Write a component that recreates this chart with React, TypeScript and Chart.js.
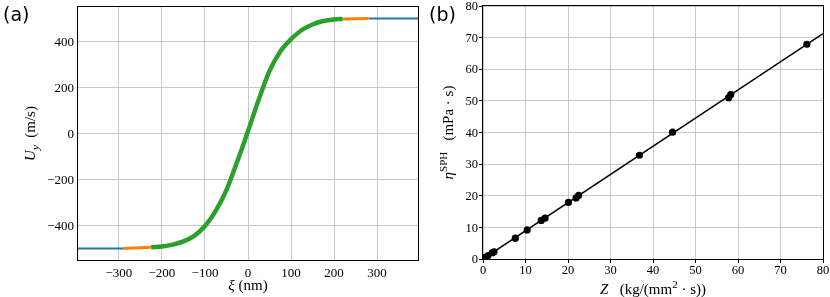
import React, { useEffect, useRef } from "react";
import { Chart, registerables } from "chart.js";
Chart.register(...registerables);

// ---------- Panel (a): U_y vs xi ----------
const xiBlueLeft = [-400, -290];
const uBlueLeft = [-500, -500];
const xiOrangeLeft = [-290, -225];
const uOrangeLeft = [-500, -495];
const xiGreen = [-225, -200, -175, -150, -125, -100, -75, -50, -25, 0, 25, 50, 75, 100, 125, 150, 175, 200, 220];
const uGreen = [-495, -491, -483, -469, -445, -402, -336, -245, -122, 10, 148, 272, 357, 410, 450, 474, 489, 496, 498];
const xiOrangeRight = [220, 280];
const uOrangeRight = [498, 500];
const xiBlueRight = [280, 400];
const uBlueRight = [500, 500];
const xiTicks = [-300, -200, -100, 0, 100, 200, 300];
const uTicks = [-400, -200, 0, 200, 400];

// ---------- Panel (b): eta^SPH vs Z ----------
const zValues = [0.3, 0.7, 1.2, 2.2, 2.6, 7.6, 10.4, 13.7, 14.6, 20.1, 21.9, 22.5, 36.8, 44.6, 57.8, 58.3, 76.2];
const etaValues = [0.3, 0.6, 1.1, 2.0, 2.3, 6.6, 9.2, 12.2, 12.9, 17.9, 19.3, 20.1, 32.8, 40.1, 51.0, 52.0, 67.9];
const fitZ = [0, 80];
const fitEta = [0, 71.3];
const zTicks = [0, 10, 20, 30, 40, 50, 60, 70, 80];
const etaTicks = [0, 10, 20, 30, 40, 50, 60, 70, 80];

const SERIF = "Liberation Serif";
const SANS = "DejaVu Sans";
const GRID = "#c8c8c8";
const BLUE = "#1f77b4";
const ORANGE = "#ff7f0e";
const GREEN = "#2ca02c";

const fmt = (v: number) => String(v).replace("-", "\u2212");
const pts = (xs: number[], ys: number[]) => xs.map((x, i) => ({ x, y: ys[i] }));

type Seg = { t: string; it?: boolean; sub?: boolean; sup?: boolean };

function drawRich(ctx: CanvasRenderingContext2D, segs: Seg[], x: number, y: number, rot: boolean, size: number) {
  ctx.save();
  ctx.translate(x, y);
  if (rot) ctx.rotate(-Math.PI / 2);
  const fontOf = (s: Seg) => `${s.it ? "italic " : ""}${s.sub || s.sup ? Math.round(size * 0.7) : size}px "${SERIF}"`;
  let total = 0;
  for (const s of segs) {
    ctx.font = fontOf(s);
    total += ctx.measureText(s.t).width;
  }
  let cx = -total / 2;
  ctx.fillStyle = "#000";
  ctx.textBaseline = "alphabetic";
  ctx.textAlign = "left";
  for (const s of segs) {
    ctx.font = fontOf(s);
    const dy = s.sub ? size * 0.25 : s.sup ? -size * 0.42 : 0;
    ctx.fillText(s.t, cx, dy);
    cx += ctx.measureText(s.t).width;
  }
  ctx.restore();
}

type Decor = {
  id: string;
  label: string;
  labelX: number;
  xTitle: Seg[];
  xTitleY: number;
  yTitle: Seg[];
  yTitleX: number;
  xTicks: number[];
  yTicks: number[];
  xLabelBaseline: number;
  yLabelRight: number;
  tickSize: number;
};

function decorPlugin(d: Decor) {
  return {
    id: d.id,
    afterDraw(chart: any) {
      const ctx: CanvasRenderingContext2D = chart.ctx;
      const a = chart.chartArea;
      ctx.save();
      ctx.strokeStyle = "#000";
      ctx.lineWidth = 1;
      ctx.strokeRect(Math.round(a.left) - 0.5, Math.round(a.top) - 0.5, Math.round(a.right - a.left) + 1, Math.round(a.bottom - a.top) + 1);
      // tick labels
      ctx.fillStyle = "#000";
      ctx.font = `${d.tickSize}px "${SERIF}"`;
      ctx.textBaseline = "alphabetic";
      ctx.textAlign = "center";
      const xs = chart.scales.x;
      const ys = chart.scales.y;
      for (const v of d.xTicks) {
        ctx.fillText(fmt(v), xs.getPixelForValue(v), d.xLabelBaseline);
      }
      ctx.textAlign = "right";
      const half = d.tickSize * 0.33;
      for (const v of d.yTicks) {
        ctx.fillText(fmt(v), d.yLabelRight, ys.getPixelForValue(v) + half);
      }
      ctx.restore();
      drawRich(ctx, d.xTitle, (a.left + a.right) / 2, d.xTitleY, false, 15);
      drawRich(ctx, d.yTitle, d.yTitleX, (a.top + a.bottom) / 2, true, 15);
      ctx.save();
      ctx.font = `19px "${SANS}"`;
      ctx.fillStyle = "#000";
      ctx.textBaseline = "alphabetic";
      ctx.textAlign = "left";
      ctx.fillText(d.label, d.labelX, 21);
      ctx.restore();
    },
  };
}

function axis(min: number, max: number, ticks: number[], size: { w?: number; h?: number }, drawTicks: boolean) {
  return {
    type: "linear",
    min,
    max,
    afterBuildTicks: (s: any) => {
      s.ticks = ticks.map((v) => ({ value: v }));
    },
    afterFit: (s: any) => {
      if (size.w !== undefined) s.width = size.w;
      if (size.h !== undefined) s.height = size.h;
      s.paddingLeft = 0;
      s.paddingRight = 0;
      s.paddingTop = 0;
      s.paddingBottom = 0;
    },
    grid: { color: GRID, lineWidth: 1, drawTicks, tickLength: 4, tickColor: "#000" },
    border: { display: false },
    ticks: { display: false, autoSkip: false, maxRotation: 0, minRotation: 0 },
  };
}

export default function App() {
  const refA = useRef<HTMLCanvasElement>(null);
  const refB = useRef<HTMLCanvasElement>(null);

  useEffect(() => {
    const line = (data: any, color: string, width: number) => ({
      type: "line",
      data,
      borderColor: color,
      backgroundColor: color,
      borderWidth: width,
      pointRadius: 0,
      fill: false,
      cubicInterpolationMode: "monotone",
    });

    const chartA = new Chart(refA.current as HTMLCanvasElement, {
      type: "line",
      data: {
        datasets: [
          line(pts(xiGreen, uGreen), GREEN, 4.5),
          line(pts(xiOrangeLeft, uOrangeLeft), ORANGE, 3),
          line(pts(xiOrangeRight, uOrangeRight), ORANGE, 3),
          line(pts(xiBlueLeft, uBlueLeft), BLUE, 2),
          line(pts(xiBlueRight, uBlueRight), BLUE, 2),
        ] as any,
      },
      options: {
        responsive: false,
        devicePixelRatio: 1,
        animation: false,
        events: [],
        layout: { padding: { left: 0, right: 2, top: 7, bottom: 0 } },
        plugins: { legend: { display: false }, tooltip: { enabled: false } },
        scales: {
          x: axis(-395, 395, xiTicks, { h: 37 }, false),
          y: axis(-550, 550, uTicks, { w: 78 }, false),
        } as any,
      },
      plugins: [
        decorPlugin({
          id: "decorA",
          label: "(a)",
          labelX: 3,
          xTitle: [{ t: "\u03be", it: true }, { t: " (nm)" }],
          xTitleY: 290,
          yTitle: [{ t: "U", it: true }, { t: "y", it: true, sub: true }, { t: "  (m/s)" }],
          yTitleX: 35,
          xTicks: xiTicks,
          yTicks: uTicks,
          xLabelBaseline: 277,
          yLabelRight: 74,
          tickSize: 13,
        }),
      ],
    } as any);

    const chartB = new Chart(refB.current as HTMLCanvasElement, {
      type: "scatter",
      data: {
        datasets: [
          {
            type: "scatter",
            data: pts(zValues, etaValues),
            backgroundColor: "#000",
            borderColor: "#000",
            borderWidth: 0,
            pointRadius: 3.6,
          },
          {
            type: "line",
            data: pts(fitZ, fitEta),
            borderColor: "#000",
            borderWidth: 1.5,
            pointRadius: 0,
            fill: false,
          },
        ] as any,
      },
      options: {
        responsive: false,
        devicePixelRatio: 1,
        animation: false,
        events: [],
        layout: { padding: { left: 0, right: 7, top: 6, bottom: 0 } },
        plugins: { legend: { display: false }, tooltip: { enabled: false } },
        scales: {
          x: axis(0, 80, zTicks, { h: 38 }, true),
          y: axis(0, 80, etaTicks, { w: 63 }, true),
        } as any,
      },
      plugins: [
        decorPlugin({
          id: "decorB",
          label: "(b)",
          labelX: 9,
          xTitle: [{ t: "Z", it: true }, { t: "   (kg/(mm" }, { t: "2", sup: true }, { t: " \u00b7 s))" }],
          xTitleY: 294,
          yTitle: [{ t: "\u03b7", it: true }, { t: "SPH", sup: true }, { t: "   (mPa \u00b7 s)" }],
          yTitleX: 33,
          xTicks: zTicks,
          yTicks: etaTicks,
          xLabelBaseline: 274,
          yLabelRight: 58,
          tickSize: 12.5,
        }),
      ],
    } as any);

    return () => {
      chartA.destroy();
      chartB.destroy();
    };
  }, []);

  return (
    <div style={{ position: "fixed", left: 0, top: 0, width: 830, height: 297, background: "#fff" }}>
      <canvas ref={refA} width={420} height={297} style={{ position: "absolute", left: 0, top: 0, width: 420, height: 297 }} />
      <canvas ref={refB} width={410} height={297} style={{ position: "absolute", left: 420, top: 0, width: 410, height: 297 }} />
    </div>
  );
}
